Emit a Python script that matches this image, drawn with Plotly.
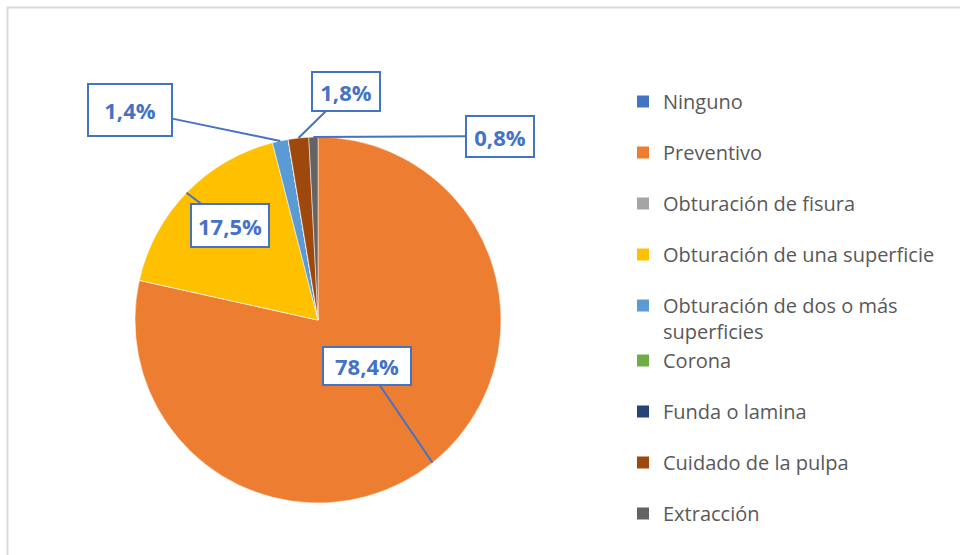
import math
import plotly.graph_objects as go

# ---- data ----
categories = ["Ninguno", "Preventivo", "Obturación de fisura", "Obturación de una superficie",
              "Obturación de dos o más superficies", "Corona", "Funda o lamina",
              "Cuidado de la pulpa", "Extracción"]
legend_labels = ["Ninguno", "Preventivo", "Obturación de fisura", "Obturación de una superficie",
                 "Obturación de dos o más<br>superficies", "Corona", "Funda o lamina",
                 "Cuidado de la pulpa", "Extracción"]
values = [0.0, 78.4, 0.0, 17.5, 1.4, 0.0, 0.0, 1.8, 0.8]
colors = ["#4472C4", "#ED7D31", "#A5A5A5", "#FFC000", "#5B9BD5",
          "#70AD47", "#264478", "#9E480E", "#636363"]

# ---- layout / style ----
W, H = 960, 555
pie_dom_x = [135 / W, 501 / W]
pie_dom_y = [1 - 503 / H, 1 - 137 / H]
# label box offsets (px, tail relative to tip) and sizes, per non-zero slice
label_style = {
    "Preventivo": dict(ax=-66, ay=-97, w=84, h=34),
    "Obturación de una superficie": dict(ax=44, ay=33, w=74, h=39),
    "Obturación de dos o más superficies": dict(ax=-150, ay=-31, w=80, h=48),
    "Cuidado de la pulpa": dict(ax=48, ay=-47, w=64, h=35),
    "Extracción": dict(ax=187, ay=-1, w=64, h=37),
}
blue = "#4472C4"

fig = go.Figure()
fig.add_trace(go.Pie(
    labels=categories, values=values, sort=False, direction="clockwise", rotation=0,
    marker=dict(colors=colors, line=dict(color="white", width=0.5)),
    textinfo="none", hoverinfo="label+percent", showlegend=False,
    domain=dict(x=pie_dom_x, y=pie_dom_y),
))

# legend entries (grouped so spacing matches)
groups = ["g0", "g1", "g2", "g3", "g4", "g4", "g6", "g7", "g8"]
for lab, col, grp in zip(legend_labels, colors, groups):
    fig.add_trace(go.Scatter(x=[None], y=[None], mode="markers", name=lab,
                             legendgroup=grp,
                             marker=dict(symbol="square", size=12, color=col),
                             hoverinfo="skip"))

# callout labels computed from slice angles
cx = (pie_dom_x[0] + pie_dom_x[1]) / 2 * W
cy = (1 - (pie_dom_y[0] + pie_dom_y[1]) / 2) * H
R = min((pie_dom_x[1] - pie_dom_x[0]) * W, (pie_dom_y[1] - pie_dom_y[0]) * H) / 2
total = sum(values)
cum = 0.0
annotations = []
for cat, v in zip(categories, values):
    mid = (cum + v / 2) / total
    cum += v
    if v <= 0:
        continue
    th = 2 * math.pi * mid
    px = cx + R * math.sin(th)
    py = cy - R * math.cos(th)
    st = label_style[cat]
    annotations.append(dict(
        x=px / W, y=1 - py / H, xref="paper", yref="paper",
        text=f"{v:.1f}".replace(".", ",") + "%",
        showarrow=True, ax=st["ax"], ay=st["ay"], axref="pixel", ayref="pixel",
        arrowhead=0, arrowwidth=2, arrowcolor=blue, standoff=0,
        width=st["w"], height=st["h"], align="center", valign="middle",
        bgcolor="white", bordercolor=blue, borderwidth=2, borderpad=1,
        font=dict(family="Open Sans", size=22, color=blue, weight="bold"),
    ))

fig.update_layout(
    width=W, height=H, margin=dict(l=0, r=0, t=0, b=0),
    paper_bgcolor="white", plot_bgcolor="white",
    xaxis=dict(visible=False), yaxis=dict(visible=False),
    showlegend=True,
    legend=dict(x=623 / W, y=1 - 82 / H, xanchor="left", yanchor="top",
                traceorder="grouped", tracegroupgap=22, valign="top",
                font=dict(family="Open Sans", size=20, color="#595959"),
                bgcolor="rgba(0,0,0,0)"),
    annotations=annotations,
    shapes=[dict(type="rect", xref="paper", yref="paper",
                 x0=7.5 / W, x1=1.02, y0=-0.02, y1=1 - 7.5 / H,
                 line=dict(color="#D9D9D9", width=2), layer="below")],
)

fig.write_html("out.html", config={"displayModeBar": False},
               post_script="document.body.style.margin='0';")
